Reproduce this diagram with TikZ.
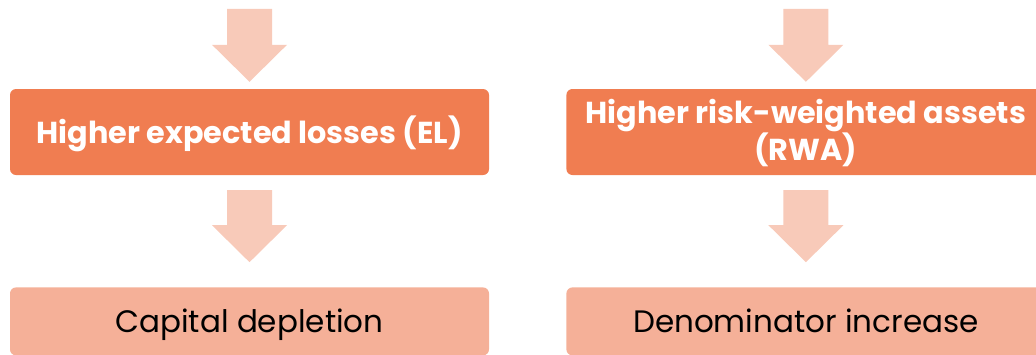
\documentclass[tikz,border=0pt]{standalone}
\usepackage{fontspec}
\setmainfont{Poppins}
\usepackage{tikz}
\usetikzlibrary{positioning,calc}

\definecolor{boxorange}{HTML}{F07D51}
\definecolor{boxsalmon}{HTML}{F5B098}
\definecolor{arrowpink}{HTML}{F8CAB9}

\begin{document}
\begin{tikzpicture}[x=1pt,y=1pt,
  topbox/.style={fill=boxorange, rounded corners=6pt, minimum width=479pt, minimum height=86pt,
    inner sep=0pt, text=white, align=center, text height=22pt, text depth=0pt,
    font=\fontsize{30.3}{34}\selectfont\bfseries},
  lowbox/.style={fill=boxsalmon, rounded corners=6pt, minimum width=479pt, minimum height=68pt,
    inner sep=0pt, text=black, text height=22pt, text depth=0pt,
    font=\fontsize{31}{34}\selectfont},
  downarrow/.style 2 args={fill=arrowpink, to path={let \p1=(\tikztostart), \p2=(\tikztotarget) in
    (\x1-22.5pt,\y1-#1) -- (\x1+22.5pt,\y1-#1) -- (\x1+22.5pt,\y2+#2+37pt) -- (\x1+37.5pt,\y2+#2+37pt)
    -- (\x1,\y2+#2) -- (\x1-37.5pt,\y2+#2+37pt) -- (\x1-22.5pt,\y2+#2+37pt) -- cycle}}]
  \useasboundingbox (0,0) rectangle (1036,-354);
  \clip (0,0) rectangle (1036,-354);

  % left: expected losses
  \node[topbox] (hel) at (249.5,-132) {Higher expected losses (EL)};
  \node[lowbox, below=112pt of hel] (cap) {Capital depletion};
  % right: risk-weighted assets
  \node[topbox, text height=56pt, right=77pt of hel] (rwa) {Higher risk-weighted assets\\(RWA)};
  \node[lowbox, below=112pt of rwa] (den) {Denominator increase};

  \coordinate (inL) at ($(hel.north)+(0,80)$);
  \coordinate (inR) at ($(rwa.north)+(0,80)$);
  \path[downarrow={0pt}{7pt}] (inL) to (hel.north);
  \path[downarrow={15pt}{25pt}] (hel.south) to (cap.north);
  \path[downarrow={0pt}{7pt}] (inR) to (rwa.north);
  \path[downarrow={15pt}{25pt}] (rwa.south) to (den.north);
\end{tikzpicture}
\end{document}
